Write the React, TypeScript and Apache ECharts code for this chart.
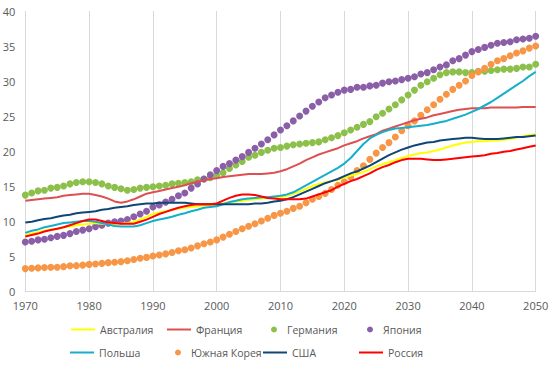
import React, { useEffect, useRef } from "react";
import * as echarts from "echarts";

const years: number[] = Array.from({ length: 81 }, (_, i) => 1970 + i);

const australia = [
  8.0, 8.2, 8.4, 8.6, 8.8, 8.9, 9.1, 9.2, 9.4, 9.5,
  9.6, 9.7, 9.6, 9.6, 9.6, 9.6, 9.7, 9.9, 10.2, 10.6,
  11.0, 11.2, 11.4, 11.6, 11.8, 11.9, 12.0, 12.1, 12.2, 12.3,
  12.3, 12.5, 12.7, 12.8, 12.9, 13.0, 13.1, 13.2, 13.3, 13.4,
  13.4, 13.6, 13.9, 14.2, 14.6, 15.0, 15.3, 15.5, 15.7, 15.9,
  16.2, 16.5, 16.7, 17.0, 17.4, 17.8, 18.1, 18.4, 18.7, 19.0,
  19.3, 19.5, 19.7, 19.8, 20.0, 20.2, 20.5, 20.8, 21.0, 21.2,
  21.3, 21.4, 21.4, 21.5, 21.5, 21.6, 21.7, 21.9, 22.1, 22.3,
  22.4,
];

const france = [
  12.9, 13.0, 13.1, 13.2, 13.3, 13.4, 13.6, 13.7, 13.8, 13.9,
  13.9, 13.7, 13.5, 13.2, 12.8, 12.6, 12.8, 13.1, 13.5, 13.9,
  14.1, 14.3, 14.5, 14.7, 14.9, 15.1, 15.4, 15.6, 15.8, 16.0,
  16.1, 16.3, 16.4, 16.5, 16.6, 16.7, 16.7, 16.7, 16.8, 16.9,
  17.1, 17.4, 17.8, 18.2, 18.7, 19.1, 19.5, 19.8, 20.1, 20.4,
  20.8, 21.1, 21.4, 21.8, 22.1, 22.4, 22.9, 23.2, 23.5, 23.8,
  24.1, 24.4, 24.6, 24.8, 25.1, 25.3, 25.5, 25.7, 25.9, 26.0,
  26.1, 26.1, 26.1, 26.2, 26.2, 26.2, 26.2, 26.2, 26.3, 26.3,
  26.3,
];

const germany = [
  13.7, 14.0, 14.3, 14.4, 14.7, 14.8, 15.0, 15.3, 15.5, 15.6,
  15.6, 15.5, 15.3, 15.0, 14.8, 14.6, 14.4, 14.5, 14.7, 14.8,
  14.9, 15.0, 15.1, 15.3, 15.4, 15.5, 15.6, 15.9, 16.0, 16.2,
  16.5, 16.9, 17.5, 18.0, 18.5, 19.1, 19.4, 19.8, 20.1, 20.4,
  20.5, 20.7, 20.9, 21.0, 21.1, 21.2, 21.3, 21.6, 21.9, 22.2,
  22.6, 23.0, 23.4, 23.8, 24.2, 24.9, 25.4, 26.0, 26.6, 27.3,
  28.0, 28.7, 29.4, 29.9, 30.4, 30.9, 31.2, 31.3, 31.3, 31.2,
  31.2, 31.4, 31.4, 31.5, 31.6, 31.7, 31.7, 31.8, 32.0, 32.0,
  32.4,
];

const japan = [
  7.0, 7.1, 7.3, 7.4, 7.6, 7.8, 7.95, 8.2, 8.5, 8.7,
  8.9, 9.2, 9.4, 9.7, 9.9, 10.0, 10.2, 10.6, 11.0, 11.4,
  12.0, 12.3, 12.7, 13.1, 13.6, 14.0, 14.7, 15.3, 16.0, 16.6,
  17.2, 17.8, 18.2, 18.7, 19.2, 19.8, 20.4, 21.0, 21.6, 22.3,
  23.0, 23.6, 24.3, 25.0, 25.7, 26.4, 27.0, 27.6, 28.0, 28.4,
  28.7, 28.8, 29.1, 29.1, 29.3, 29.4, 29.7, 29.9, 30.0, 30.2,
  30.4, 30.6, 31.0, 31.2, 31.6, 32.0, 32.3, 32.9, 33.2, 33.7,
  34.2, 34.5, 34.8, 35.1, 35.4, 35.5, 35.6, 35.9, 36.0, 36.1,
  36.4,
];

const poland = [
  8.3, 8.6, 8.8, 9.1, 9.3, 9.5, 9.7, 9.8, 9.9, 10.0,
  10.0, 9.9, 9.7, 9.5, 9.3, 9.2, 9.2, 9.2, 9.4, 9.7,
  10.0, 10.2, 10.4, 10.6, 10.9, 11.1, 11.4, 11.6, 11.9, 12.0,
  12.1, 12.4, 12.7, 12.9, 13.1, 13.2, 13.3, 13.4, 13.4, 13.5,
  13.6, 13.8, 14.1, 14.6, 15.1, 15.6, 16.1, 16.6, 17.1, 17.6,
  18.2, 19.0, 20.0, 21.0, 21.8, 22.3, 22.7, 23.0, 23.2, 23.3,
  23.4, 23.5, 23.6, 23.7, 23.9, 24.1, 24.3, 24.6, 24.9, 25.2,
  25.6, 26.0, 26.5, 27.0, 27.6, 28.2, 28.8, 29.4, 30.0, 30.7,
  31.3,
];

const korea = [
  3.2, 3.25, 3.3, 3.35, 3.38, 3.4, 3.48, 3.6, 3.62, 3.7,
  3.8, 3.86, 3.95, 4.05, 4.1, 4.2, 4.33, 4.5, 4.67, 4.8,
  5.0, 5.14, 5.3, 5.5, 5.75, 5.9, 6.15, 6.45, 6.75, 7.0,
  7.3, 7.7, 8.1, 8.5, 8.9, 9.25, 9.6, 10.0, 10.4, 10.8,
  11.1, 11.4, 11.8, 12.1, 12.6, 13.1, 13.5, 13.95, 14.5, 15.1,
  15.6, 16.3, 17.2, 17.9, 18.8, 19.7, 20.5, 21.2, 22.0, 22.9,
  23.6, 24.3, 25.1, 25.9, 26.6, 27.4, 28.1, 28.8, 29.4, 30.0,
  30.8, 31.3, 31.8, 32.4, 32.9, 33.2, 33.6, 34.0, 34.3, 34.7,
  35.0,
];

const usa = [
  9.8, 9.9, 10.1, 10.3, 10.4, 10.6, 10.8, 10.9, 11.1, 11.2,
  11.3, 11.4, 11.6, 11.7, 11.9, 12.0, 12.1, 12.3, 12.4, 12.5,
  12.5, 12.6, 12.6, 12.6, 12.6, 12.6, 12.5, 12.4, 12.4, 12.4,
  12.4, 12.4, 12.4, 12.4, 12.4, 12.4, 12.5, 12.5, 12.6, 12.8,
  12.9, 13.1, 13.4, 13.8, 14.2, 14.6, 15.0, 15.4, 15.7, 16.0,
  16.4, 16.8, 17.1, 17.5, 17.9, 18.4, 18.9, 19.4, 19.8, 20.2,
  20.5, 20.8, 21.0, 21.2, 21.3, 21.5, 21.6, 21.7, 21.8, 21.9,
  21.9, 21.8, 21.7, 21.7, 21.7, 21.8, 21.9, 22.0, 22.0, 22.1,
  22.2,
];

const russia = [
  7.8, 8.0, 8.2, 8.5, 8.7, 8.9, 9.1, 9.4, 9.7, 10.0,
  10.2, 10.2, 10.0, 9.8, 9.7, 9.6, 9.6, 9.6, 9.9, 10.2,
  10.6, 11.0, 11.3, 11.6, 11.9, 12.1, 12.3, 12.4, 12.4, 12.4,
  12.5, 12.9, 13.3, 13.6, 13.8, 13.8, 13.7, 13.5, 13.3, 13.2,
  13.1, 13.1, 13.1, 13.1, 13.2, 13.5, 13.8, 14.1, 14.4, 14.9,
  15.3, 15.7, 16.0, 16.4, 16.8, 17.3, 17.7, 18.0, 18.4, 18.7,
  18.9, 18.9, 18.9, 18.8, 18.7, 18.7, 18.8, 18.9, 19.0, 19.1,
  19.2, 19.3, 19.4, 19.6, 19.7, 19.9, 20.0, 20.2, 20.4, 20.6,
  20.8,
];

type Def = { name: string; values: number[]; color: string; kind: "line" | "dot" };

const seriesDefs: Def[] = [
  { name: "Австралия", values: australia, color: "#FFFF00", kind: "line" },
  { name: "Франция", values: france, color: "#DE5050", kind: "line" },
  { name: "Германия", values: germany, color: "#8DC04B", kind: "dot" },
  { name: "Япония", values: japan, color: "#8B5FA8", kind: "dot" },
  { name: "Польша", values: poland, color: "#14B0CA", kind: "line" },
  { name: "Южная Корея", values: korea, color: "#F79646", kind: "dot" },
  { name: "США", values: usa, color: "#0E4675", kind: "line" },
  { name: "Россия", values: russia, color: "#FF0000", kind: "line" },
];

// legend slot positions [left, top]
const legendSlots: [number, number][] = [
  [71, 324], [167, 324], [271, 324], [367, 324],
  [70, 347], [175, 347], [263, 347], [359, 347],
];

const FONT = "'Open Sans', 'Noto Sans', sans-serif";
const TXT = "#595959";

export default function App() {
  const ref = useRef<HTMLDivElement>(null);
  useEffect(() => {
    document.body.style.margin = "0";
    const chart = echarts.init(ref.current!, null, { renderer: "svg" });
    const series = seriesDefs.map((d) => {
      const data = years.map((y, i) => [y, d.values[i]]);
      if (d.kind === "line") {
        return {
          name: d.name,
          type: "line",
          data,
          symbol: "none",
          color: d.color,
          lineStyle: { width: 2, color: d.color },
        };
      }
      return {
        name: d.name,
        type: "scatter",
        data,
        symbol: "circle",
        symbolSize: 7,
        color: d.color,
        itemStyle: { color: d.color, opacity: 1 },
      };
    });
    const legends = seriesDefs.map((d, i) => ({
      data: [
        d.kind === "line"
          ? { name: d.name, icon: "rect", itemStyle: { color: d.color } }
          : { name: d.name, icon: "circle", itemStyle: { color: d.color } },
      ],
      left: legendSlots[i][0],
      top: legendSlots[i][1],
      padding: 0,
      itemGap: 0,
      selectedMode: false,
      itemWidth: d.kind === "dot" ? 16 : 24,
      itemHeight: d.kind === "dot" ? 6 : 2,
      textStyle: { color: TXT, fontSize: 10.5, fontFamily: FONT },
    }));
    chart.setOption({
      animation: false,
      backgroundColor: "#ffffff",
      textStyle: { fontFamily: FONT },
      grid: { left: 25.3, right: 19.3, top: 11, bottom: 80, containLabel: false, outerBoundsMode: "none" },
      legend: legends,
      xAxis: {
        type: "value",
        min: 1970,
        max: 2050,
        interval: 10,
        axisLine: { show: true, lineStyle: { color: "#D9D9D9", width: 1 } },
        axisTick: { show: false },
        splitLine: { show: true, lineStyle: { color: "#D9D9D9", width: 1 } },
        axisLabel: {
          color: TXT,
          fontSize: 11,
          fontFamily: FONT,
          margin: 9,
          formatter: (v: number) => String(v),
        },
      },
      yAxis: {
        type: "value",
        min: 0,
        max: 40,
        interval: 5,
        axisLine: { show: false },
        axisTick: { show: false },
        splitLine: { show: false },
        axisLabel: { color: TXT, fontSize: 11, fontFamily: FONT, margin: 10 },
      },
      series,
    });
    return () => chart.dispose();
  }, []);
  return <div ref={ref} style={{ width: 555, height: 371 }} />;
}
